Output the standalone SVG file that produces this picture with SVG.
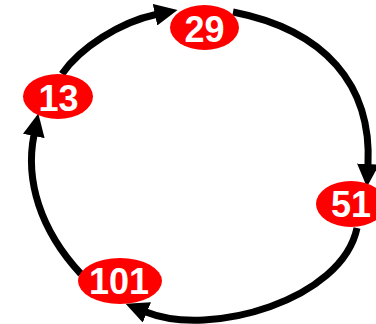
<svg xmlns="http://www.w3.org/2000/svg" width="376" height="324" viewBox="0 0 376 324">
<style>
.edge{fill:none;stroke:#000;stroke-width:7}
.node ellipse{fill:#ff0000}
.node text{fill:#fff;font-family:"Liberation Sans",Arial,sans-serif;font-weight:bold;font-size:36px;text-anchor:middle}
</style>
<defs>
<marker id="arr" markerUnits="userSpaceOnUse" markerWidth="24" markerHeight="22" refX="1" refY="11" orient="auto">
<path d="M0,0 L23,11 L0,22 z" fill="#000"/>
</marker>
</defs>
<g id="connectors">
<path class="edge" d="M62,74 C80,48 120,22 156,14.5" marker-end="url(#arr)"/>
<path class="edge" d="M233,12 C325,30 372,85 368,165" marker-end="url(#arr)"/>
<path class="edge" d="M357,228 C342,300 210,338 146,312" marker-end="url(#arr)"/>
<path class="edge" d="M81,274 C40,230 25,180 34,135" marker-end="url(#arr)"/>
</g>
<g id="node-29" class="node"><ellipse cx="204.5" cy="27.5" rx="34.5" ry="22.5"/><text x="204.5" y="41.5">29</text></g>
<g id="node-13" class="node"><ellipse cx="58" cy="96.5" rx="35" ry="22.5"/><text x="58.5" y="110.5">13</text></g>
<g id="node-51" class="node"><ellipse cx="351" cy="204" rx="35" ry="23"/><text x="351" y="217">51</text></g>
<g id="node-101" class="node"><ellipse cx="120" cy="281" rx="42" ry="23"/><text x="119" y="293.5">101</text></g>
</svg>
